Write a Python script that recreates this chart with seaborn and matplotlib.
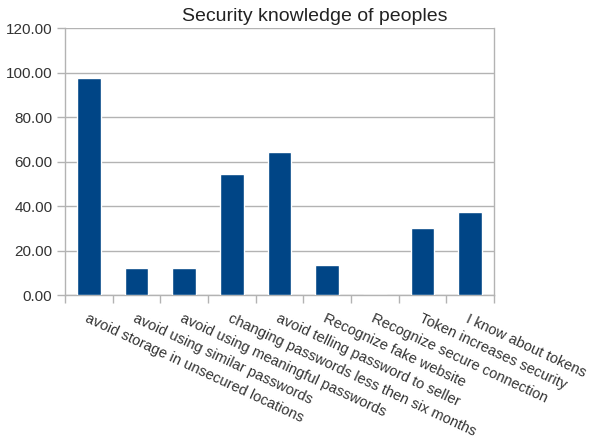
import matplotlib
matplotlib.use("Agg")
import matplotlib.pyplot as plt
import seaborn as sns
import pandas as pd
import numpy as np

categories = [
    "avoid storage in unsecured locations",
    "avoid using similar passwords",
    "avoid using meaningful passwords",
    "changing passwords less then six months",
    "avoid telling password to seller",
    "Recognize fake website",
    "Recognize secure connection",
    "Token increases security",
    "I know about tokens",
]
values = [97.5, 12.0, 12.0, 54.5, 64.5, 13.5, 0.0, 30.0, 37.5]
yticks = [0, 20, 40, 60, 80, 100, 120]
title = "Security knowledge of peoples"

sns.set_style("white")
plt.rcParams["font.family"] = ["Liberation Sans", "DejaVu Sans"]

df = pd.DataFrame({"cat": categories, "val": values})

fig = plt.figure(figsize=(5.93, 4.40), dpi=100)
ax = fig.add_axes([0.1096, 0.3295, 0.833 - 0.1096, 0.936 - 0.3295])

sns.barplot(data=df, x="cat", y="val", color="#004586", width=0.5,
            saturation=1, ax=ax, zorder=3)

grid_c = "#b3b3b3"
ax.set_ylim(0, 120)
ax.set_xlim(-0.5, len(categories) - 0.5)
ax.set_yticks(yticks)
ax.set_yticklabels([f"{v:.2f}" for v in yticks], fontsize=11, color="#333333")
ax.yaxis.grid(True, color=grid_c, linewidth=1, zorder=0)
ax.set_axisbelow(True)
for s in ["left", "right", "bottom", "top"]:
    ax.spines[s].set_visible(True)
    ax.spines[s].set_color(grid_c)
    ax.spines[s].set_linewidth(1)
ax.spines["top"].set_visible(False)

ax.tick_params(axis="y", length=6, color=grid_c, width=1, pad=3, left=True)
ax.set_xticks(range(len(categories)))
ax.set_xticklabels(categories, rotation=-25, ha="left", va="top",
                   rotation_mode="anchor", fontsize=10.5, color="#333333")
ax.tick_params(axis="x", which="major", length=0, pad=12)
ax.set_xticks(np.arange(-0.5, len(categories), 1.0), minor=True)
ax.tick_params(axis="x", which="minor", length=6, color=grid_c, width=1, bottom=True)

ax.set_xlabel("")
ax.set_ylabel("")
fig.text(0.53, 0.962, title, ha="center", va="center", fontsize=14, color="#222222")

fig.savefig("out.png", dpi=100)
